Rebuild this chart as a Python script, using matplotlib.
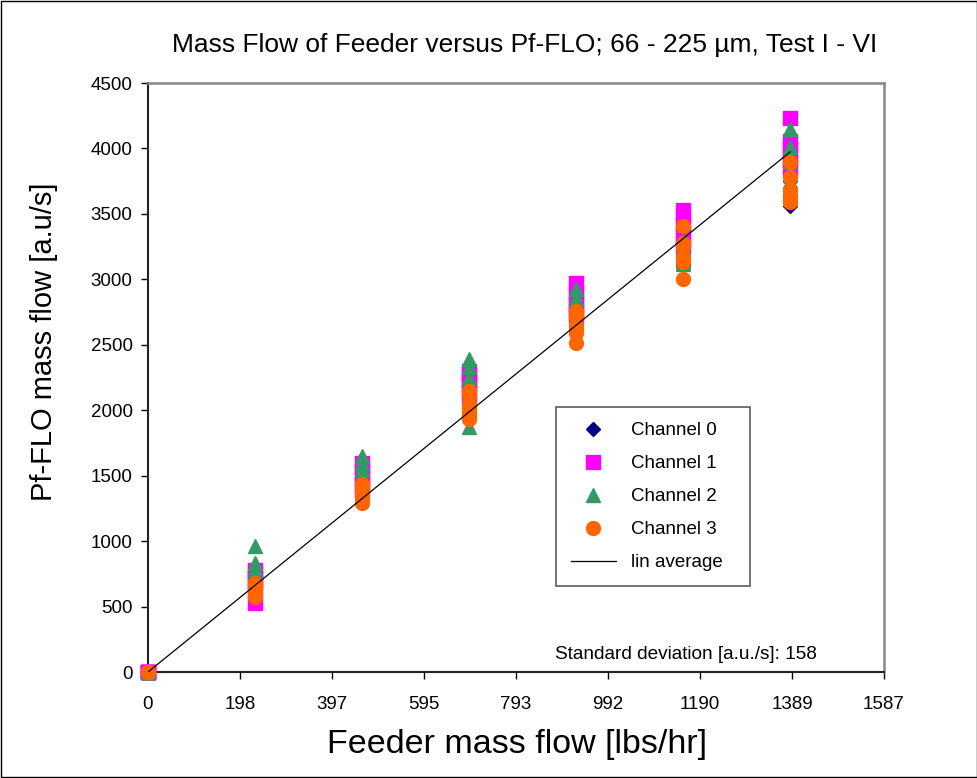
import matplotlib
matplotlib.use("Agg")
import matplotlib.pyplot as plt
import numpy as np

plt.rcParams["font.family"] = ["Liberation Sans", "DejaVu Sans"]

# feeder mass flow settings [lbs/hr]
feeder = [0, 231, 462, 692, 923, 1154, 1385]

# Pf-FLO readings, six tests per feeder setting
ch0 = [[0]*6,
       [700, 680, 650, 620, 600, 580],
       [1380, 1350, 1340, 1400, 1420, 1360],
       [2050, 2000, 1980, 2100, 2150, 2020],
       [2700, 2650, 2750, 2620, 2680, 2600],
       [3100, 3150, 3200, 3250, 3120, 3180],
       [3560, 3600, 3650, 3700, 3750, 3680]]
ch1 = [[0]*6,
       [530, 620, 680, 720, 760, 780],
       [1600, 1560, 1520, 1480, 1420, 1390],
       [2300, 2270, 2230, 2200, 2150, 2100],
       [2970, 2900, 2850, 2800, 2760, 2720],
       [3530, 3480, 3420, 3360, 3300, 3250],
       [4230, 4060, 4000, 3950, 3900, 3850]]
ch2 = [[0]*6,
       [960, 830, 790, 760, 720, 700],
       [1650, 1600, 1550, 1500, 1480, 1450],
       [2390, 2330, 2250, 2180, 2050, 1870],
       [2930, 2860, 2800, 2760, 2720, 2700],
       [3300, 3250, 3200, 3150, 3130, 3120],
       [4150, 4010, 3900, 3800, 3750, 3700]]
ch3 = [[0]*6,
       [680, 660, 640, 610, 590, 570],
       [1440, 1420, 1400, 1370, 1330, 1290],
       [2150, 2120, 2050, 2000, 1960, 1930],
       [2760, 2720, 2650, 2620, 2590, 2510],
       [3410, 3280, 3250, 3170, 3130, 3000],
       [3900, 3780, 3680, 3640, 3610, 3590]]

lin_x = [0, 1385]
lin_y = [0, 3975]

xticks = [0, 198, 397, 595, 793, 992, 1190, 1389, 1587]
yticks = list(range(0, 4501, 500))

fig = plt.figure(figsize=(9.78, 7.78), dpi=100)
ax = fig.add_axes([0.1513, 0.1362, 0.7526, 0.7571])

def flat(ch):
    xs, ys = [], []
    for x, vals in zip(feeder, ch):
        xs += [x]*len(vals)
        ys += vals
    return xs, ys

styles = [(ch0, "D", "#000080", 7, "Channel 0"),
          (ch1, "s", "#FF00FF", 10, "Channel 1"),
          (ch2, "^", "#339966", 10, "Channel 2"),
          (ch3, "o", "#FF6600", 10, "Channel 3")]
for ch, m, c, ms, lab in styles:
    xs, ys = flat(ch)
    ax.plot(xs, ys, ls="none", marker=m, color=c, ms=ms, mec=c, label=lab,
            clip_on=False, zorder=3)

ax.plot(lin_x, lin_y, color="black", lw=0.9, label="lin average", zorder=4)

ax.set_xlim(0, 1587)
ax.set_ylim(0, 4500)
ax.set_xticks(xticks)
ax.set_yticks(yticks)
ax.tick_params(labelsize=13.5, direction="out", length=5, width=1, pad=12)
ax.tick_params(axis="y", pad=6)
for s in ["left", "bottom"]:
    ax.spines[s].set_linewidth(1.5)
    ax.spines[s].set_color("#222222")
for s in ["top", "right"]:
    ax.spines[s].set_linewidth(1.8)
    ax.spines[s].set_color("#888888")

ax.set_xlabel("Feeder mass flow [lbs/hr]", fontsize=24.5)
ax.xaxis.set_label_coords(0.501, -0.097)
ax.set_ylabel("Pf-FLO mass flow [a.u/s]", fontsize=21)
ax.yaxis.set_label_coords(-0.122, 0.56)
fig.text(0.536, 0.942, "Mass Flow of Feeder versus Pf-FLO; 66 - 225 \u00b5m, Test I - VI",
         ha="center", va="center", fontsize=19)

leg = ax.legend(loc="upper left", bbox_to_anchor=(0.554, 0.0, 0.264, 0.45),
                mode="expand", fontsize=13.5,
                frameon=True, fancybox=False, edgecolor="#333333",
                handlelength=2.4, labelspacing=0.85, borderpad=0.8,
                handletextpad=0.8, borderaxespad=0)
leg.get_frame().set_linewidth(1.2)

ax.text(0.553, 0.029, "Standard deviation [a.u./s]: 158", transform=ax.transAxes,
        fontsize=13.7, ha="left", va="center")

fig.patches.append(plt.Rectangle((0.001, 0.001), 0.998, 0.998, transform=fig.transFigure,
                                 fill=False, edgecolor="black", lw=1))

fig.savefig("out.png", dpi=100)
